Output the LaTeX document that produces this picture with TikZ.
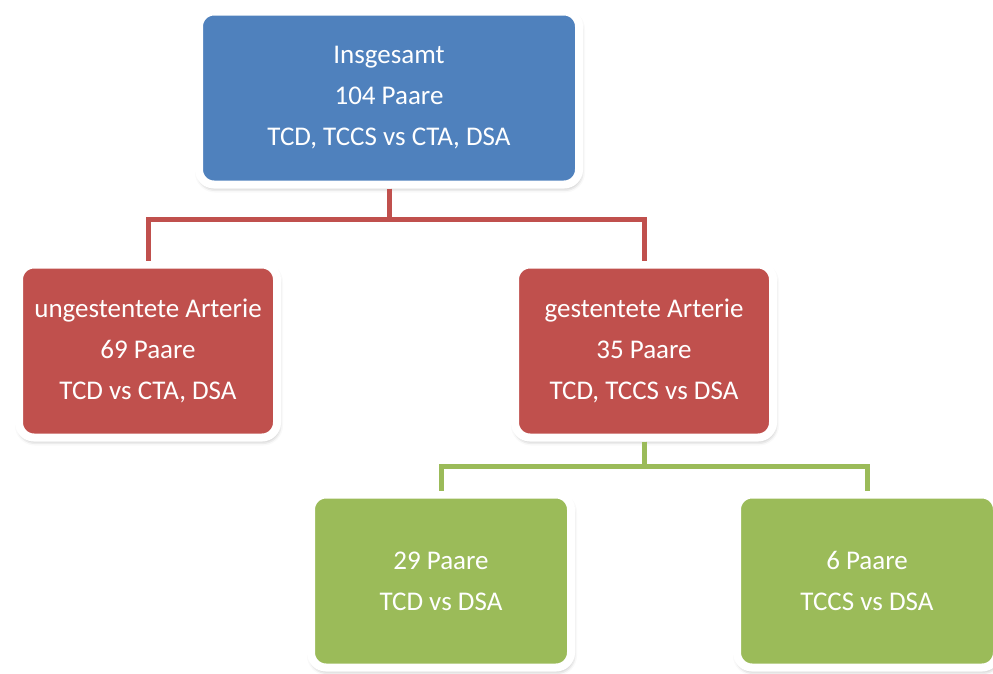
\documentclass[tikz,border=0pt]{standalone}
\usepackage{fontspec}
\setmainfont{Carlito}
\usepackage{tikz}
\usetikzlibrary{positioning, shadows.blur}

\definecolor{boxblue}{HTML}{4F81BD}
\definecolor{boxred}{HTML}{C0504D}
\definecolor{boxgreen}{HTML}{9BBB59}

\begin{document}
\begin{tikzpicture}[x=1pt,y=-1pt,
                    box/.style={rectangle,rounded corners=15pt,draw=white,line width=8pt,
                      minimum height=173pt,text=white,align=center,
                      font=\fontsize{27}{41}\selectfont,
                      blur shadow={shadow xshift=1pt,shadow yshift=-3pt,shadow blur radius=5pt,shadow opacity=40}},
                    line/.style={line width=5pt}]

  \useasboundingbox (0,0) rectangle (993,673);

  \node[box, fill=boxblue, minimum width=380pt] (top) at (389,98)
    {Insgesamt\\104 Paare\\TCD, TCCS vs CTA, DSA};
  \node[box, fill=boxred, minimum width=258pt] (links) at (148,351)
    {ungestentete Arterie\\69 Paare\\TCD vs CTA, DSA};
  \node[box, fill=boxred, minimum width=258pt] (rechts) at (644,351)
    {gestentete Arterie\\35 Paare\\TCD, TCCS vs DSA};
  \node[box, fill=boxgreen, minimum width=260pt] (tcd) at (441,581)
    {29 Paare\\TCD vs DSA};
  \node[box, fill=boxgreen, minimum width=260pt] (tccs) at (867,581)
    {6 Paare\\TCCS vs DSA};

  \draw[line, boxred] (top.south) -- ++(0,31) -| (links.north);
  \draw[line, boxred] (top.south) -- ++(0,31) -| (rechts.north);
  \draw[line, boxgreen] (rechts.south) -- ++(0,25) -| (tcd.north);
  \draw[line, boxgreen] (rechts.south) -- ++(0,25) -| (tccs.north);
\end{tikzpicture}
\end{document}
